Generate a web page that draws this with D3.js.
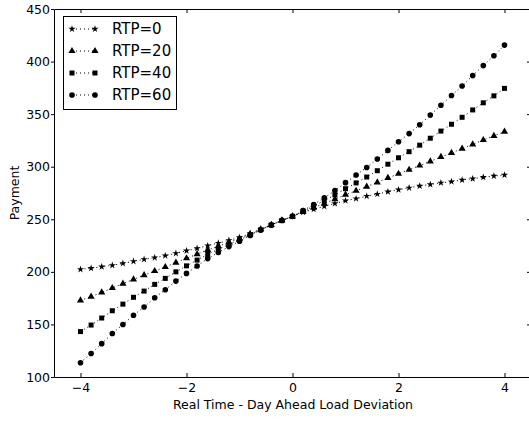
<!DOCTYPE html>
<html>
<head>
<meta charset="utf-8">
<title>Payment vs deviation</title>
<script src="https://cdnjs.cloudflare.com/ajax/libs/d3/7.8.5/d3.min.js"></script>
<style>
  body { margin: 0; background: #fff; }
  text { font-family: "DejaVu Sans", sans-serif; fill: #000; }
</style>
</head>
<body>
<script>
// deviation values (x)
var deviation = [-4.0, -3.8, -3.6, -3.4, -3.2, -3.0, -2.8, -2.6, -2.4, -2.2, -2.0,
  -1.8, -1.6, -1.4, -1.2, -1.0, -0.8, -0.6, -0.4, -0.2, 0.0,
  0.2, 0.4, 0.6, 0.8, 1.0, 1.2, 1.4, 1.6, 1.8, 2.0,
  2.2, 2.4, 2.6, 2.8, 3.0, 3.2, 3.4, 3.6, 3.8, 4.0];

// payment for each RTP setting
var rtp0 = [202.4, 203.4, 204.9, 206.2, 208.1, 210.0, 211.9, 213.5, 215.4, 217.6, 220.1,
  222.4, 224.9, 227.4, 230.0, 232.7, 236.4, 240.6, 244.8, 248.9, 252.8,
  256.7, 259.5, 262.3, 265.0, 267.7, 269.6, 272.0, 274.0, 276.2, 278.1,
  279.9, 281.7, 283.1, 284.7, 285.8, 287.4, 288.6, 290.0, 291.2, 292.1];
var rtp20 = [172.8, 176.4, 180.5, 184.6, 188.7, 192.9, 196.8, 200.8, 204.6, 208.8, 212.9,
  216.8, 220.8, 224.4, 228.0, 231.5, 235.8, 240.3, 244.7, 248.9, 252.8,
  257.2, 261.0, 265.0, 269.1, 273.4, 277.1, 281.1, 285.1, 289.3, 293.3,
  297.1, 301.1, 305.1, 309.3, 313.1, 317.2, 321.3, 325.4, 329.3, 333.3];
var rtp40 = [143.2, 149.4, 156.1, 163.0, 169.3, 175.8, 181.7, 188.1, 193.8, 200.0, 205.7,
  211.2, 216.7, 221.4, 226.0, 230.3, 235.2, 240.0, 244.6, 248.9, 252.8,
  257.7, 262.5, 267.7, 273.2, 279.1, 284.6, 290.2, 296.2, 302.4, 308.5,
  314.3, 320.5, 327.1, 333.9, 340.4, 347.0, 354.0, 360.8, 367.4, 374.5];
var rtp60 = [113.6, 122.4, 131.7, 141.4, 149.9, 158.7, 166.6, 175.4, 183.0, 191.2, 198.5,
  205.6, 212.6, 218.4, 224.0, 229.1, 234.6, 239.7, 244.5, 248.9, 252.8,
  258.2, 264.0, 270.4, 277.3, 284.8, 292.1, 299.3, 307.3, 315.5, 323.7,
  331.5, 339.9, 349.1, 358.5, 367.7, 376.8, 386.7, 396.2, 405.5, 415.7];

var seriesNames = ['RTP=0', 'RTP=20', 'RTP=40', 'RTP=60'];
var xTicks = [-4, -2, 0, 2, 4];
var yTicks = [100, 150, 200, 250, 300, 350, 400, 450];

var width = 529, height = 422;

var svg = d3.select('body').append('svg')
  .attr('width', width)
  .attr('height', height);

svg.append('rect').attr('width', width).attr('height', height).attr('fill', '#fff');

var x = d3.scaleLinear().domain([-4.5, 4.5]).range([54, 531]);
var y = d3.scaleLinear().domain([100, 450]).range([377, 9]);

// series table for drawing
var symbols = [d3.symbolStar, d3.symbolTriangle, d3.symbolSquare, d3.symbolCircle];
var symSizes = [16, 22, 25, 25];
var series = [rtp0, rtp20, rtp40, rtp60].map(function(vals, i) {
  return {
    name: seriesNames[i],
    sym: d3.symbol().type(symbols[i]).size(symSizes[i]),
    points: vals.map(function(v, j) { return [deviation[j], v]; })
  };
});

var line = d3.line()
  .x(function(d) { return x(d[0]); })
  .y(function(d) { return y(d[1]); });

var plot = svg.append('g');

series.forEach(function(s) {
  plot.append('path')
    .attr('d', line(s.points))
    .attr('fill', 'none')
    .attr('stroke', '#000')
    .attr('stroke-width', 1)
    .attr('stroke-dasharray', '1,3');
  plot.selectAll(null)
    .data(s.points)
    .enter()
    .append('path')
    .attr('d', s.sym)
    .attr('transform', function(d) { return 'translate(' + x(d[0]) + ',' + y(d[1]) + ')'; })
    .attr('fill', '#000');
});

// axes (ticks point inward like the old matplotlib style)
var fontSize = '12.5px';

var axBottom = svg.append('g')
  .attr('transform', 'translate(0,377)')
  .call(d3.axisBottom(x).tickValues(xTicks).tickSizeInner(-4).tickSizeOuter(0).tickPadding(6));
var axTop = svg.append('g')
  .attr('transform', 'translate(0,9)')
  .call(d3.axisTop(x).tickValues(xTicks).tickSizeInner(-4).tickSizeOuter(0).tickFormat(''));
var axLeft = svg.append('g')
  .attr('transform', 'translate(54,0)')
  .call(d3.axisLeft(y).tickValues(yTicks).tickSizeInner(3).tickSizeOuter(0).tickPadding(1).tickFormat(d3.format('d')));
var axRight = svg.append('g')
  .attr('transform', 'translate(531,0)')
  .call(d3.axisRight(y).tickValues(yTicks).tickSizeInner(-4).tickSizeOuter(0).tickFormat(''));

[axBottom, axTop, axLeft, axRight].forEach(function(g) {
  g.selectAll('text').attr('font-size', fontSize).attr('font-family', '"DejaVu Sans", sans-serif').attr('fill', '#000');
  g.select('.domain').attr('stroke', '#000');
});

svg.append('text')
  .attr('x', 293)
  .attr('y', 409)
  .attr('text-anchor', 'middle')
  .attr('font-size', fontSize)
  .text('Real Time - Day Ahead Load Deviation');

svg.append('text')
  .attr('transform', 'translate(19,193) rotate(-90)')
  .attr('text-anchor', 'middle')
  .attr('font-size', fontSize)
  .text('Payment');

// legend
var legend = svg.append('g');
legend.append('rect')
  .attr('x', 63.5).attr('y', 16.5)
  .attr('width', 113).attr('height', 93)
  .attr('fill', '#fff')
  .attr('stroke', '#000')
  .attr('stroke-width', 1);

series.forEach(function(s, i) {
  var ly = 29 + i * 22;
  legend.append('line')
    .attr('x1', 72).attr('x2', 95)
    .attr('y1', ly).attr('y2', ly)
    .attr('stroke', '#000')
    .attr('stroke-dasharray', '1,3');
  [72, 95].forEach(function(mx) {
    legend.append('path')
      .attr('d', s.sym)
      .attr('transform', 'translate(' + mx + ',' + ly + ')')
      .attr('fill', '#000');
  });
  legend.append('text')
    .attr('x', 112)
    .attr('y', ly)
    .attr('dy', '0.36em')
    .attr('font-size', '15px')
    .text(s.name);
});
</script>
</body>
</html>
